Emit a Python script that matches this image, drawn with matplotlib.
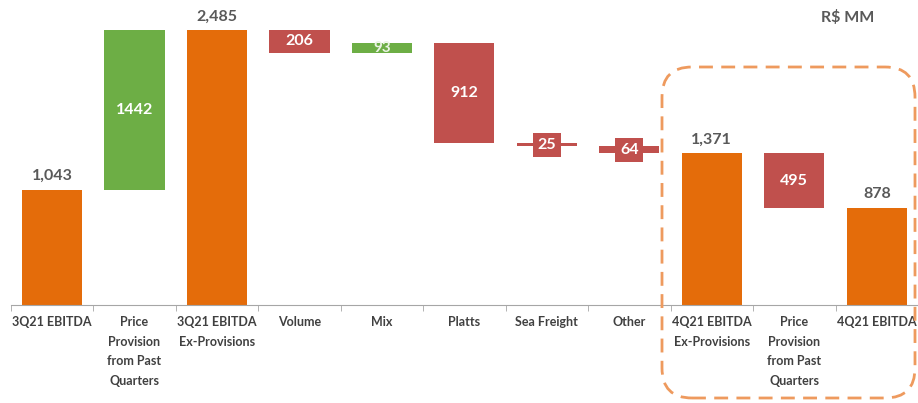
import matplotlib
matplotlib.use("Agg")
import matplotlib.pyplot as plt
from matplotlib.patches import FancyBboxPatch
import numpy as np

plt.rcParams['font.family'] = ['Lato', 'DejaVu Sans']

categories = ['3Q21 EBITDA', 'Price\nProvision\nfrom Past\nQuarters', '3Q21 EBITDA\nEx-Provisions',
              'Volume', 'Mix', 'Platts', 'Sea Freight', 'Other',
              '4Q21 EBITDA\nEx-Provisions', 'Price\nProvision\nfrom Past\nQuarters', '4Q21 EBITDA']
values = [1043, 1442, 2485, -206, 93, -912, -25, -64, 1371, -495, 878]
is_total = [True, False, True, False, False, False, False, False, True, False, True]

ORANGE = '#E46C0A'
GREEN = '#6DAE45'
RED = '#C0504D'
GREY = '#595959'

fig = plt.figure(figsize=(9.18, 4.03), dpi=100)
ax = fig.add_axes([10.75 / 918, 98 / 403, 907.25 / 918, 300 / 403])

x = np.arange(len(values))
bottoms, heights, colors = [], [], []
running = 0
for v, tot in zip(values, is_total):
    if tot:
        running = v
        bottoms.append(0)
        heights.append(v)
        colors.append(ORANGE)
    else:
        start = running
        running = running + v
        bottoms.append(min(start, running))
        heights.append(abs(v))
        colors.append(GREEN if v > 0 else RED)

ax.bar(x, heights, bottom=bottoms, width=0.73, color=colors, zorder=2)

for i, (v, tot) in enumerate(zip(values, is_total)):
    if tot:
        ax.text(i, bottoms[i] + heights[i] + 60, f'{v:,}', ha='center', va='bottom',
                fontsize=11.5, fontweight='bold', color=GREY)
    else:
        mid = bottoms[i] + heights[i] / 2
        if heights[i] > 150:
            ax.text(i, mid, f'{abs(v)}', ha='center', va='center', fontsize=11.5,
                    fontweight='bold', color='white')
        elif v > 0:
            ax.text(i, mid, f'{abs(v)}', ha='center', va='center', fontsize=11,
                    fontweight='bold', color='#EAF3E3')
        else:
            ax.text(i, mid, f'{abs(v)}', ha='center', va='center', fontsize=11.5,
                    fontweight='bold', color='white',
                    bbox=dict(boxstyle='square,pad=0.3', fc=RED, ec='none'))

ax.set_xlim(-0.5, len(values) - 0.5)
ax.set_ylim(0, 2711)
ax.set_yticks([])
ax.set_xticks(x)
ax.set_xticklabels(categories, fontsize=9, fontweight='bold', color='#404040', linespacing=1.75)
ax.set_xticks(np.arange(-0.5, len(values)), minor=True)
ax.tick_params(axis='x', which='major', length=0, pad=8)
ax.tick_params(axis='x', which='minor', length=4, color='#A6A6A6')
for s in ['top', 'right', 'left']:
    ax.spines[s].set_visible(False)
ax.spines['bottom'].set_color('#A6A6A6')

fig.text(848 / 918, 1 - 18 / 403, 'R$ MM', ha='center', va='center', fontsize=11.5,
         fontweight='bold', color=GREY)

box = FancyBboxPatch((6.62, 0.05), 2.53, 3.31, boxstyle='round,pad=0,rounding_size=0.3',
                     transform=fig.dpi_scale_trans, fill=False, ec='#EE9A5E', lw=2,
                     linestyle=(0, (5, 3)), clip_on=False)
fig.patches.append(box)

fig.savefig('out.png', dpi=100)
